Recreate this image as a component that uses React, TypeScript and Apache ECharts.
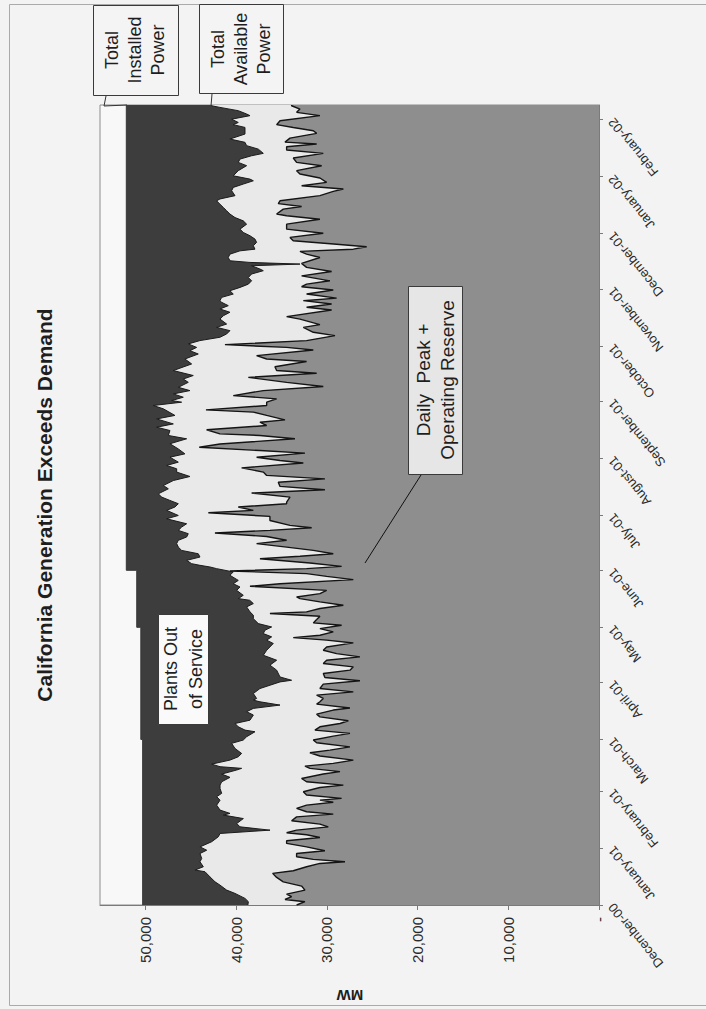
import React, { useEffect, useRef } from 'react';
import * as echarts from 'echarts';

// Day offsets are counted from 1 December 2000.
const START_UTC = Date.UTC(2000, 11, 1);
const END_DAY = 435;
const DAY_MS = 86400000;

const MONTH_NAMES = ['January', 'February', 'March', 'April', 'May', 'June', 'July', 'August', 'September', 'October', 'November', 'December'];
const VALUE_TICKS = [0, 10000, 20000, 30000, 40000, 50000];

const installedDays = [0, 90, 90, 151, 151, 182, 182, 435];
const installedMW = [50300, 50300, 50500, 50500, 50950, 50950, 52100, 52100];

const availableDays = [
  0, 1.8, 3.6, 6.3, 8.1, 10.8, 12.6, 15.3, 18.1, 19.0, 20.8, 23.5, 25.3, 28.0, 29.8, 31.6, 34.4, 37.1, 38.9, 40.7,
  42.5, 44.3, 47.0, 48.9, 49.8, 51.6, 54.3, 57.0, 58.9, 60.7, 63.4, 65.2, 67.0, 69.4, 71.2, 73.4, 74.3, 75.2, 76.6, 78.8,
  80.6, 82.4, 85.1, 87.9, 89.7, 91.5, 94.2, 95.1, 96.9, 98.7, 100.5, 103.3, 105.1, 106.9, 108.7, 110.5, 111.4, 112.3, 115.0, 117.7,
  121.3, 122.2, 124.0, 127.7, 130.4, 133.1, 135.8, 138.5, 142.2, 144.0, 145.8, 147.6, 149.4, 151.2, 153.0, 155.7, 157.6, 159.4, 162.1, 163.9,
  165.7, 166.6, 168.4, 171.1, 172.9, 174.7, 176.5, 179.3, 181.1, 182.9, 183.8, 184.7, 185.6, 187.4, 189.2, 191.0, 192.8, 194.6, 196.5, 198.3,
  200.1, 201.9, 203.7, 205.5, 207.3, 210.0, 211.8, 214.6, 216.4, 218.2, 220.0, 221.8, 223.6, 226.3, 228.1, 230.8, 233.0, 235.4, 237.2, 239.0,
  240.8, 243.5, 245.3, 248.0, 250.8, 253.5, 255.3, 258.0, 259.8, 261.6, 264.3, 266.2, 269.8, 271.6, 273.4, 274.3, 276.1, 277.9, 279.7, 281.5,
  284.2, 286.0, 287.9, 290.6, 294.2, 296.9, 299.6, 301.4, 303.2, 305.1, 306.9, 308.7, 310.5, 312.3, 314.1, 315.9, 318.6, 320.4, 322.3, 324.1,
  325.9, 327.7, 328.6, 330.4, 332.2, 334.0, 335.8, 337.6, 339.4, 341.2, 343.1, 344.9, 345.8, 347.6, 348.5, 349.4, 350.3, 352.1, 353.9, 355.7,
  356.6, 358.5, 360.3, 362.1, 363.9, 365.7, 367.5, 370.2, 372.0, 373.8, 375.7, 377.5, 379.3, 381.1, 382.9, 383.9, 385.7, 388.4, 390.2, 392.0,
  393.8, 394.7, 396.5, 399.3, 402.0, 403.8, 405.6, 407.4, 408.7, 411.0, 412.9, 414.7, 416.5, 419.2, 422.8, 424.3, 425.5, 427.3, 429.2, 430.1,
  431.9, 433.7, 434.6, 435
];
const availableMW = [
  38700, 38650, 39020, 40120, 41040, 41770, 42320, 42880, 43430, 44530, 43610, 43980, 43790, 43980, 43240, 43980, 42690, 41960, 41770, 36260,
  39570, 39930, 39200, 41410, 40670, 41770, 42140, 41770, 42140, 41590, 41770, 41770, 41590, 40670, 41590, 39930, 39390, 41770, 42700, 40670,
  39760, 39390, 40120, 40490, 39210, 38840, 37920, 39020, 39760, 40120, 38470, 38100, 38840, 38100, 35160, 37370, 38100, 37740, 38100, 37370,
  35160, 33880, 35160, 35530, 36270, 35530, 37000, 36630, 35900, 36630, 36080, 37000, 36820, 36080, 37550, 38100, 38100, 38470, 38840, 38100,
  38500, 39760, 39210, 39940, 39570, 40310, 39760, 40680, 40310, 42150, 42880, 43980, 44900, 45450, 43980, 44170, 46000, 46370, 46550, 46370,
  45450, 45270, 46370, 46000, 45450, 47660, 46370, 47660, 46740, 46370, 47300, 48210, 48570, 47470, 48020, 46920, 45090, 46550, 46550, 47660,
  46370, 47290, 45640, 46370, 47290, 45450, 47470, 47290, 48760, 46920, 48760, 46740, 48020, 49130, 46000, 47100, 45820, 46920, 45090, 46370,
  45270, 45820, 44720, 46920, 44900, 45640, 44170, 45090, 44350, 45270, 43980, 41780, 41040, 40680, 42150, 41040, 41780, 41410, 40680, 41780,
  40860, 41590, 41780, 41590, 40310, 40680, 39570, 38650, 38290, 38650, 38290, 37000, 37370, 38290, 32960, 38470, 40680, 40860, 40680, 39570,
  37920, 38100, 37740, 37920, 38470, 39210, 39570, 38840, 39210, 40120, 40680, 41040, 41410, 41780, 42150, 41780, 40120, 40490, 40310, 39210,
  38100, 38470, 40310, 39760, 38840, 39760, 39570, 38290, 37000, 37550, 38840, 39020, 40680, 39020, 39020, 40310, 39760, 40490, 38470, 38840,
  39760, 41780, 42700, 42700
];

const demandDays = [
  0, 1.8, 3.0, 4.5, 5.9, 8.1, 10.3, 12.6, 15.0, 17.2, 18.6, 20.8, 22.6, 23.5, 24.8, 26.2, 28.0, 29.5, 31.6, 33.5,
  34.9, 36.7, 38.2, 39.3, 40.7, 42.5, 44.0, 45.8, 47.9, 49.4, 50.7, 52.5, 54.3, 55.9, 57.0, 58.0, 59.8, 61.6, 63.9, 65.2,
  67.0, 68.8, 71.2, 72.5, 74.3, 75.5, 77.0, 78.8, 81.0, 82.8, 84.2, 86.0, 88.2, 89.7, 91.8, 93.3, 95.1, 96.9, 98.7, 100.2,
  102.3, 103.8, 106.0, 107.1, 109.2, 110.5, 112.3, 114.1, 115.9, 117.7, 120.1, 121.9, 123.7, 125.9, 127.7, 129.5, 131.3, 133.1, 134.9, 136.7,
  138.5, 140.3, 142.5, 144.0, 145.4, 146.7, 148.5, 150.3, 152.1, 153.4, 155.2, 157.0, 158.5, 159.4, 161.2, 163.0, 164.8, 166.6, 167.5, 169.3,
  171.1, 173.3, 174.7, 176.9, 178.7, 180.2, 181.6, 182.9, 184.1, 186.0, 188.3, 189.6, 191.0, 192.8, 194.6, 196.5, 198.3, 200.4, 202.3, 203.7,
  205.1, 206.4, 209.1, 211.3, 213.3, 214.6, 216.4, 218.2, 219.1, 221.8, 224.0, 225.8, 227.6, 229.9, 231.7, 233.6, 235.4, 237.7, 240.3, 241.7,
  243.5, 245.7, 247.1, 248.9, 250.7, 253.5, 255.3, 256.2, 258.4, 260.7, 262.5, 263.8, 266.2, 268.0, 269.2, 271.6, 273.4, 275.2, 277.0, 279.7,
  281.9, 284.2, 286.9, 289.1, 290.6, 292.7, 295.5, 296.9, 298.7, 301.8, 303.2, 304.7, 306.9, 309.6, 311.4, 314.1, 315.6, 318.6, 319.9, 323.5,
  325.0, 326.8, 328.6, 330.0, 332.2, 334.4, 336.2, 337.6, 339.4, 342.1, 344.5, 346.7, 348.9, 352.1, 353.9, 355.4, 356.6, 357.9, 359.3, 361.2,
  363.0, 365.3, 367.5, 370.2, 372.9, 374.8, 375.7, 378.4, 379.8, 381.4, 382.9, 385.7, 388.0, 389.3, 391.1, 392.9, 395.3, 397.5, 399.3, 402.0,
  403.8, 406.2, 408.7, 410.5, 412.3, 413.8, 414.8, 417.0, 419.6, 421.0, 422.8, 424.3, 426.4, 429.2, 431.0, 432.8, 434.6, 435
];
const demandMW = [
  33330, 32410, 34610, 33880, 34430, 32410, 32780, 34800, 35530, 35970, 33700, 32230, 30760, 28000, 31490, 33330, 33330, 30210, 32230, 34430,
  34430, 30760, 32230, 34430, 33330, 29840, 30760, 33880, 33330, 29290, 32230, 33330, 32230, 29290, 30760, 28370, 32230, 32590, 30760, 28180,
  32230, 32780, 30390, 28550, 31860, 32410, 29290, 27080, 30760, 31860, 29660, 27450, 31120, 31490, 29290, 27450, 31310, 30760, 28550, 27630,
  30760, 31120, 29290, 27450, 31120, 30760, 30390, 31120, 27080, 30760, 30390, 26350, 30210, 30390, 27450, 27080, 30390, 30020, 26350, 28920,
  30390, 30020, 27080, 30020, 33700, 30760, 29290, 30760, 28370, 31490, 31120, 30760, 36270, 32230, 30760, 28180, 30760, 32960, 33330, 30760,
  30020, 38470, 35160, 27080, 30020, 32230, 40680, 32230, 28370, 31860, 37370, 32960, 29290, 31490, 34430, 37740, 34430, 36630, 42330, 36270,
  31670, 34060, 36270, 36270, 43060, 38100, 39760, 34430, 34430, 34060, 38290, 30210, 35160, 35350, 30210, 36630, 37000, 39390, 32590, 35160,
  37740, 32410, 37370, 44060, 41780, 33510, 37370, 41780, 43250, 36630, 37370, 34610, 36630, 38100, 43320, 36630, 36630, 35530, 40310, 37000,
  30390, 34430, 38650, 31120, 35530, 35720, 32230, 36630, 37740, 31490, 34430, 41230, 32230, 29100, 31490, 32590, 30760, 32960, 34430, 29470,
  32230, 29470, 32590, 28920, 32230, 29290, 32780, 32230, 29660, 32780, 29470, 32230, 32780, 30760, 32230, 32960, 27080, 25610, 28920, 33700,
  34060, 30390, 34430, 34430, 30760, 34430, 35530, 34800, 32780, 35350, 35160, 30760, 29290, 28180, 32780, 30020, 30760, 32960, 33330, 30570,
  33330, 33700, 30390, 34430, 34430, 31120, 34610, 34060, 31120, 31490, 33700, 35530, 35160, 30760, 33330, 32960, 33880, 33880
];

const FONT = '"Liberation Sans", Arial, sans-serif';

const toPairs = (days: number[], values: number[]) =>
  days.map((d, i) => [values[i], START_UTC + d * DAY_MS]);

const monthLabel = (val: number) => {
  const d = new Date(val);
  if (d.getUTCDate() !== 1 || d.getUTCHours() !== 0) return '';
  return MONTH_NAMES[d.getUTCMonth()] + '-' + String(d.getUTCFullYear() % 100).padStart(2, '0');
};

export default function App() {
  const ref = useRef<HTMLDivElement>(null);

  useEffect(() => {
    if (!ref.current) return;
    const chart = echarts.init(ref.current, undefined, { renderer: 'svg' });
    const boxText = (text: string, x: number, y: number, size: number, lh: number) => ({
      type: 'text', x, y, rotation: Math.PI / 2, z: 110,
      style: { text, font: `${size}px ${FONT}`, lineHeight: lh, align: 'center', verticalAlign: 'middle', fill: '#1e1e1e' },
    });
    const box = (x: number, y: number, w: number, h: number, fill: string) => ({
      type: 'rect', z: 105, shape: { x, y, width: w, height: h },
      style: { fill, stroke: '#3a3a3a', lineWidth: 1 },
    });
    chart.setOption({
      animation: false,
      useUTC: true,
      backgroundColor: '#f3f3f3',
      textStyle: { fontFamily: FONT },
      grid: {
        left: 100, right: 107, top: 105, bottom: 104, show: true,
        backgroundColor: '#f8f8f8', borderColor: '#8c8c8c', borderWidth: 1,
      },
      xAxis: {
        type: 'value', inverse: true, min: 0, max: 55000, interval: 10000, position: 'bottom',
        axisLine: { show: true, lineStyle: { color: '#7a7a7a' } },
        axisTick: { show: true, length: 5, lineStyle: { color: '#7a7a7a' } },
        axisLabel: {
          rotate: 90, margin: 12, fontSize: 15, color: '#2a2a2a', showMaxLabel: false,
          formatter: (v: number) => (VALUE_TICKS.includes(v) ? (v === 0 ? '-' : v.toLocaleString('en-US')) : ''),
        },
        splitLine: { show: false },
      },
      yAxis: {
        type: 'time', position: 'right',
        min: START_UTC, max: START_UTC + END_DAY * DAY_MS,
        splitNumber: 15, minInterval: 28 * DAY_MS, maxInterval: 31 * DAY_MS,
        axisLine: { show: true, onZero: false, lineStyle: { color: '#7a7a7a' } },
        axisTick: { show: true, length: 4, lineStyle: { color: '#7a7a7a' } },
        axisLabel: { rotate: 129, margin: 12, fontSize: 13, color: '#2a2a2a', formatter: monthLabel, hideOverlap: false },
        splitLine: { show: false },
      },
      series: [
        {
          name: 'Total Installed Power', type: 'line', z: 2, symbol: 'none',
          data: toPairs(installedDays, installedMW),
          lineStyle: { width: 1, color: '#383838' },
          areaStyle: { color: '#3d3d3d', opacity: 1 },
        },
        {
          name: 'Total Available Power', type: 'line', z: 3, symbol: 'none',
          data: toPairs(availableDays, availableMW),
          lineStyle: { width: 1, color: '#1c1c1c' },
          areaStyle: { color: '#e9e9e9', opacity: 1 },
        },
        {
          name: 'Daily Peak + Operating Reserve', type: 'line', z: 4, symbol: 'none',
          data: toPairs(demandDays, demandMW),
          lineStyle: { width: 1.4, color: '#141414' },
          areaStyle: { color: '#8e8e8e', opacity: 1 },
        },
      ],
      graphic: [
        { type: 'rect', z: 100, shape: { x: 9.5, y: 4.5, width: 740, height: 1001 }, style: { fill: 'none', stroke: '#aaaaaa', lineWidth: 1 } },
        {
          type: 'text', x: 44, y: 505, rotation: Math.PI / 2, z: 110,
          style: { text: 'California Generation Exceeds Demand', font: `bold 21px ${FONT}`, align: 'center', verticalAlign: 'middle', fill: '#1e1e1e' },
        },
        {
          type: 'text', x: 350, y: 995, rotation: Math.PI, z: 110,
          style: { text: 'MW', font: `bold 15px ${FONT}`, align: 'center', verticalAlign: 'middle', fill: '#1e1e1e' },
        },
        box(93.5, 5.5, 85, 90, '#f4f4f4'),
        boxText('Total\nInstalled\nPower', 135, 50, 18, 23),
        box(199.5, 4.5, 84, 89, '#f4f4f4'),
        boxText('Total\nAvailable\nPower', 241, 49, 18, 23),
        box(158.5, 614.5, 50, 110, '#fafafa'),
        boxText('Plants Out\nof Service', 183.5, 669, 18, 25),
        box(408.5, 286.5, 54, 188, '#e6e6e6'),
        boxText('Daily  Peak +\nOperating Reserve', 435.5, 380, 19, 24),
        { type: 'polyline', z: 106, shape: { points: [[106, 96], [104, 106], [127, 105]] }, style: { stroke: '#333', lineWidth: 1, fill: 'none' } },
        { type: 'polyline', z: 106, shape: { points: [[212, 94], [211, 106]] }, style: { stroke: '#333', lineWidth: 1, fill: 'none' } },
        { type: 'line', z: 106, shape: { x1: 421, y1: 475, x2: 365, y2: 563 }, style: { stroke: '#111', lineWidth: 1 } },
      ],
    });
    return () => chart.dispose();
  }, []);

  return (
    <div
      ref={ref}
      style={{ position: 'absolute', left: 0, top: 0, width: 706, height: 1009, background: '#f3f3f3' }}
    />
  );
}
